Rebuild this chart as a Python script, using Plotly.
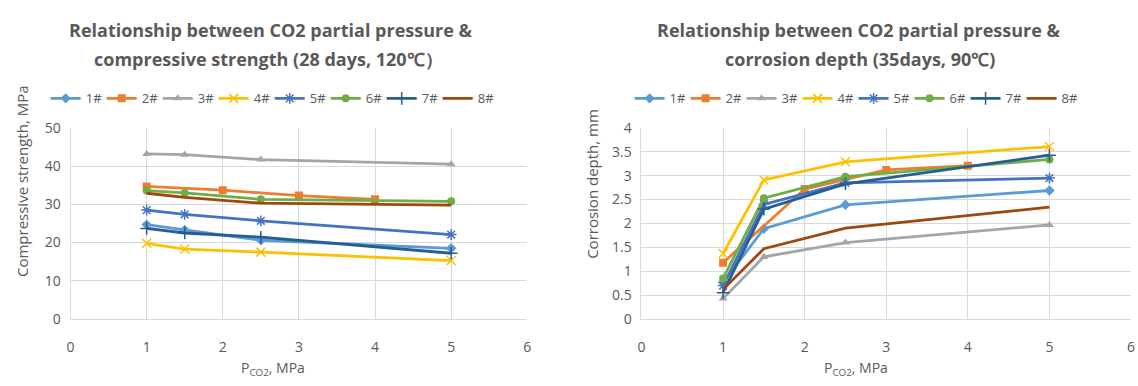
import plotly.graph_objects as go

# ---- data ----
series_names = ["1#", "2#", "3#", "4#", "5#", "6#", "7#", "8#"]
colors = ["#5B9BD5", "#ED7D31", "#A5A5A5", "#FFC000", "#4472C4", "#70AD47", "#255E91", "#9E480E"]
symbols = ["diamond", "square", "triangle-up", "x-thin-open", "asterisk-open", "circle", "cross-thin-open", None]

x_ticks = [0, 1, 2, 3, 4, 5, 6]

# compressive strength (28 days, 120C)
cs_x = {
    "1#": [1, 1.5, 2.5, 5], "2#": [1, 2, 3, 4], "3#": [1, 1.5, 2.5, 5], "4#": [1, 1.5, 2.5, 5],
    "5#": [1, 1.5, 2.5, 5], "6#": [1, 1.5, 2.5, 5], "7#": [1, 1.5, 2.5, 5], "8#": [1, 1.5, 2.5, 5],
}
cs_y = {
    "1#": [24.7, 23.3, 20.6, 18.5],
    "2#": [34.7, 33.7, 32.3, 31.3],
    "3#": [43.2, 43.0, 41.7, 40.5],
    "4#": [19.8, 18.3, 17.5, 15.3],
    "5#": [28.5, 27.4, 25.7, 22.1],
    "6#": [33.6, 33.0, 31.3, 30.8],
    "7#": [23.7, 22.5, 21.4, 17.2],
    "8#": [32.9, 31.8, 30.3, 29.8],
}

# corrosion depth (35 days, 90C)
cd_x = {
    "1#": [1, 1.5, 2.5, 5], "2#": [1, 2, 3, 4], "3#": [1, 1.5, 2.5, 5], "4#": [1, 1.5, 2.5, 5],
    "5#": [1, 1.5, 2.5, 5], "6#": [1, 1.5, 2.5, 5], "7#": [1, 1.5, 2.5, 5], "8#": [1, 1.5, 2.5, 5],
}
cd_y = {
    "1#": [0.77, 1.89, 2.39, 2.69],
    "2#": [1.18, 2.72, 3.12, 3.21],
    "3#": [0.43, 1.30, 1.60, 1.97],
    "4#": [1.37, 2.91, 3.29, 3.61],
    "5#": [0.70, 2.40, 2.85, 2.95],
    "6#": [0.85, 2.53, 2.98, 3.34],
    "7#": [0.55, 2.30, 2.83, 3.43],
    "8#": [0.62, 1.47, 1.90, 2.34],
}

W, H = 1138, 386
GRAY = "#595959"
GRID = "#D9D9D9"
FONT = "Open Sans"

fig = go.Figure()

for i, name in enumerate(series_names):
    sym = symbols[i]
    mode = "lines+markers" if sym else "lines"
    thin = sym in ("x-thin-open", "asterisk-open", "cross-thin-open")
    marker = dict(symbol=sym, size=9 if thin else 8, color=colors[i],
                  line=dict(width=1.5 if thin else 0, color=colors[i])) if sym else None
    fig.add_trace(go.Scatter(x=cs_x[name], y=cs_y[name], name=name, mode=mode,
                             line=dict(color=colors[i], width=2.8), marker=marker,
                             xaxis="x", yaxis="y", legend="legend"))
    fig.add_trace(go.Scatter(x=cd_x[name], y=cd_y[name], name=name, mode=mode,
                             line=dict(color=colors[i], width=2.8), marker=marker,
                             xaxis="x2", yaxis="y2", legend="legend2"))


def px_x(p):
    return p / W


def px_y(p):
    return 1 - p / H


ydom = [px_y(325), px_y(124)]
xaxis_common = dict(showgrid=True, gridcolor=GRID, gridwidth=1, zeroline=False,
                    showline=True, linecolor=GRID, linewidth=1, ticks="",
                    tickvals=x_ticks, range=[0, 6], ticklabelstandoff=15,
                    tickfont=dict(family=FONT, size=14, color=GRAY))
yaxis_common = dict(showgrid=True, gridcolor=GRID, gridwidth=1, zeroline=False,
                    showline=True, linecolor=GRID, linewidth=1, ticks="",
                    ticklabelstandoff=6,
                    tickfont=dict(family=FONT, size=14, color=GRAY))

legend_common = dict(orientation="h", yanchor="middle", xanchor="left",
                     font=dict(family=FONT, size=13, color=GRAY), itemwidth=30,
                     entrywidth=11, entrywidthmode="pixels",
                     bgcolor="rgba(0,0,0,0)", tracegroupgap=0)

title_font = dict(family=FONT, size=18, color=GRAY)
axis_title_font = dict(family=FONT, size=15, color=GRAY)


def ann(text, x, y, font, angle=0):
    return dict(text=text, x=px_x(x), y=px_y(y), xref="paper", yref="paper",
                showarrow=False, xanchor="center", yanchor="middle", font=font,
                textangle=angle)


fig.update_layout(
    width=W, height=H,
    margin=dict(l=0, r=0, t=0, b=0),
    paper_bgcolor="white", plot_bgcolor="white",
    showlegend=True,
    xaxis=dict(domain=[px_x(67), px_x(527)], anchor="y", **xaxis_common),
    yaxis=dict(domain=ydom, range=[0, 50], dtick=10, anchor="x", **yaxis_common),
    xaxis2=dict(domain=[px_x(642), px_x(1135)], anchor="y2", **xaxis_common),
    yaxis2=dict(domain=ydom, range=[0, 4], dtick=0.5, anchor="x2", **yaxis_common),
    legend=dict(x=px_x(42), y=px_y(93), **legend_common),
    legend2=dict(x=px_x(630), y=px_y(93), **legend_common),
    annotations=[
        ann("<b>Relationship between CO2 partial pressure &</b>", 268, 21, title_font),
        ann("<b>compressive strength (28 days, 120℃）</b>", 266, 52, title_font),
        ann("<b>Relationship between CO2 partial pressure &</b>", 861, 21, title_font),
        ann("<b>corrosion depth (35days, 90℃)</b>", 862, 52, title_font),
        ann("Compressive strength, MPa", 18, 180, axis_title_font, -90),
        ann("Corrosion depth, mm", 592, 183, axis_title_font, -90),
        ann("P<sub>CO2</sub>, MPa", 271, 377, dict(family=FONT, size=14, color=GRAY)),
        ann("P<sub>CO2</sub>, MPa", 858, 377, dict(family=FONT, size=14, color=GRAY)),
    ],
)

fig.write_html("out.html")
